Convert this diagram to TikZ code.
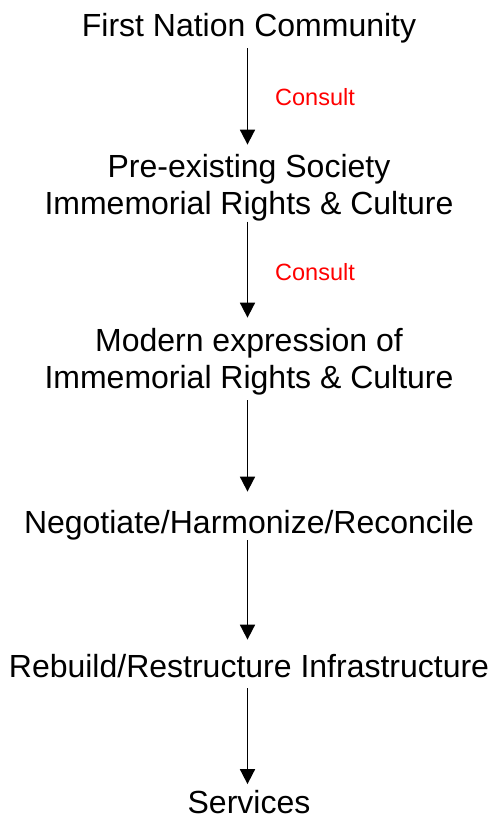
\documentclass[tikz,border=0pt]{standalone}
\usepackage{fontspec}
\setmainfont{Liberation Sans}
\usetikzlibrary{arrows.meta}
\begin{document}
\begin{tikzpicture}[x=1pt,y=-1pt,
  lbl/.style={font=\fontsize{32}{37}\selectfont, inner sep=0pt, align=center, text height=23pt, text depth=0pt, anchor=south},
  note/.style={font=\fontsize{23.5}{27}\selectfont, text=red, inner sep=0pt, anchor=base west},
  arr/.style={line width=1.8pt, -{Triangle[width=15pt,length=15pt]}}]
\useasboundingbox (0,0) rectangle (497,819);
\node[lbl] (n1) at (249,37) {First Nation Community};
\node[lbl] (n2) at (249,215) {Pre-existing Society\\Immemorial Rights \& Culture};
\node[lbl] (n3) at (249,388.5) {Modern expression of\\Immemorial Rights \& Culture};
\node[lbl] (n4) at (249,533.5) {Negotiate/Harmonize/Reconcile};
\node[lbl] (n5) at (249,677.5) {Rebuild/Restructure Infrastructure};
\node[lbl] (n6) at (249,813.5) {Services};
\node[note] (c1) at (275,105.4) {Consult};
\node[note] (c2) at (275,280.4) {Consult};
\draw[arr] ([xshift=-1.5pt,yshift=-11pt]n1.south) -- ([xshift=-1.5pt,yshift=47pt]n2.north);
\draw[arr] ([xshift=-1.5pt,yshift=-6.5pt]n2.south) -- ([xshift=-1.5pt,yshift=47.5pt]n3.north);
\draw[arr] ([xshift=-1.5pt,yshift=-11.5pt]n3.south) -- ([xshift=-1.5pt,yshift=18.5pt]n4.north);
\draw[arr] ([xshift=-1.5pt,yshift=-6.5pt]n4.south) -- ([xshift=-1.5pt,yshift=14.5pt]n5.north);
\draw[arr] ([xshift=-1.5pt,yshift=-10.5pt]n5.south) -- ([xshift=-1.5pt,yshift=6pt]n6.north);
\end{tikzpicture}
\end{document}
